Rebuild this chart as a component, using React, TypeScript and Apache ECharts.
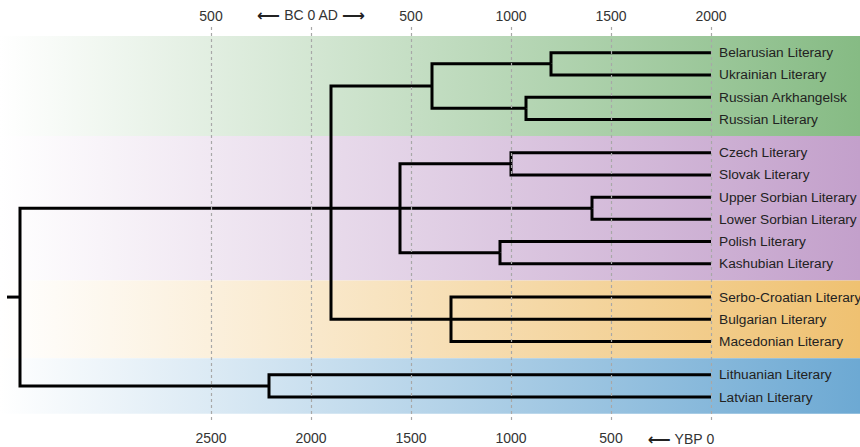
import React, { useEffect, useRef } from "react";
import * as echarts from "echarts";

// ---- leaves, in drawing order, by group ----
const eastSlavic = ["Belarusian Literary", "Ukrainian Literary", "Russian Arkhangelsk", "Russian Literary"];
const westSlavic = ["Czech Literary", "Slovak Literary", "Upper Sorbian Literary", "Lower Sorbian Literary", "Polish Literary", "Kashubian Literary"];
const southSlavic = ["Serbo-Croatian Literary", "Bulgarian Literary", "Macedonian Literary"];
const baltic = ["Lithuanian Literary", "Latvian Literary"];
const groups = [eastSlavic, westSlavic, southSlavic, baltic];
const groupColors = ["#86bb84", "#c3a0cb", "#efc171", "#6da9d3"];

// ---- internal nodes: name, age (years before present), children ----
const nodeNames = ["Root", "Baltic", "Slavic", "East", "BelUkr", "Russian", "West", "CzeSlo", "Sorbian", "PolKas", "South"];
const nodeAgesYBP = [3455, 2210, 1900, 1395, 800, 925, 1555, 1000, 595, 1055, 1300];
const nodeChildren = [
  ["Slavic", "Baltic"],
  ["Lithuanian Literary", "Latvian Literary"],
  ["East", "West", "South"],
  ["BelUkr", "Russian"],
  ["Belarusian Literary", "Ukrainian Literary"],
  ["Russian Arkhangelsk", "Russian Literary"],
  ["CzeSlo", "Sorbian", "PolKas"],
  ["Czech Literary", "Slovak Literary"],
  ["Upper Sorbian Literary", "Lower Sorbian Literary"],
  ["Polish Literary", "Kashubian Literary"],
  ["Serbo-Croatian Literary", "Bulgarian Literary", "Macedonian Literary"],
];
const rootStemYBP = 3520;
const leafAgeYBP = 0;

// ---- axes ----
const topTicksAD = [-500, 0, 500, 1000, 1500, 2000];
const bottomTicksYBP = [2500, 2000, 1500, 1000, 500, 0];
const presentAD = 2000;
const ybpMin = -500;
const ybpMax = 3500;
const rowMin = -1.16;
const rowMax = 16.67;
const groupGap = 0.5;

// ---- derived layout ----
const leafRow: Record<string, number> = {};
const groupRanges: number[][] = [];
{
  let r = 0;
  groups.forEach((g, gi) => {
    const start = r;
    g.forEach((name) => {
      leafRow[name] = r;
      r += 1;
    });
    groupRanges.push([start - 0.75, r - 1 + 0.75, gi]);
    r += groupGap;
  });
}
const nodeIndex: Record<string, number> = {};
nodeNames.forEach((n, i) => (nodeIndex[n] = i));
const ageOf = (n: string) => (n in nodeIndex ? nodeAgesYBP[nodeIndex[n]] : leafAgeYBP);
const yOf = (n: string): number => {
  if (!(n in nodeIndex)) return leafRow[n];
  const ch = nodeChildren[nodeIndex[n]];
  if (ch.length % 2 === 1) return yOf(ch[(ch.length - 1) / 2]);
  return (yOf(ch[0]) + yOf(ch[ch.length - 1])) / 2;
};
const edges: number[][] = [];
nodeNames.forEach((n, i) => {
  const pa = nodeAgesYBP[i];
  const py = yOf(n);
  nodeChildren[i].forEach((c) => edges.push([pa, py, ageOf(c), yOf(c)]));
});
edges.push([rootStemYBP, yOf("Root"), nodeAgesYBP[0], yOf("Root")]);
const allLeaves = groups.flat();
const leafData = allLeaves.map((name, i) => [leafAgeYBP, leafRow[name], i]);

export default function App() {
  const ref = useRef<HTMLDivElement>(null);
  useEffect(() => {
    if (!ref.current) return;
    const chart = echarts.init(ref.current, undefined, { renderer: "svg" });
    const font = "'Liberation Sans', Arial, Helvetica, sans-serif";
    const arrow = { fontSize: 16, fontWeight: "bold", color: "#222", fontFamily: "'DejaVu Sans', sans-serif" };
    chart.setOption({
      animation: false,
      backgroundColor: "#ffffff",
      textStyle: { fontFamily: font },
      grid: { left: 11, right: 49, top: 27, bottom: 19, containLabel: false },
      xAxis: [
        {
          type: "value",
          position: "bottom",
          min: ybpMin,
          max: ybpMax,
          interval: 500,
          inverse: true,
          axisLine: { show: false },
          axisTick: { show: false },
          splitLine: { show: false },
          axisLabel: {
            margin: 8,
            fontSize: 14,
            color: "#333",
            fontFamily: font,
            showMinLabel: true,
            showMaxLabel: true,
            formatter: (v: number) =>
              bottomTicksYBP.includes(v) ? (v === 0 ? "{a|⟵}{s| YBP }0{p|}" : String(v)) : "",
            rich: {
              a: arrow,
              s: { fontSize: 14, color: "#333", fontFamily: font },
              p: { width: 60, fontSize: 14 },
            },
          },
        },
        {
          type: "value",
          position: "top",
          min: presentAD - ybpMax,
          max: presentAD - ybpMin,
          interval: 500,
          axisLine: { show: false },
          axisTick: { show: false },
          splitLine: { show: false },
          axisLabel: {
            margin: 4,
            fontSize: 14,
            color: "#333",
            fontFamily: font,
            formatter: (v: number) =>
              topTicksAD.includes(v) ? (v === 0 ? "{a|⟵}{s| BC 0 AD }{a|⟶}" : String(Math.abs(v))) : "",
            rich: { a: arrow, s: { fontSize: 14, color: "#333", fontFamily: font } },
          },
        },
      ],
      yAxis: { type: "value", min: rowMin, max: rowMax, inverse: true, show: false },
      series: [
        {
          type: "custom",
          z: 1,
          data: groupRanges,
          renderItem: (params: any, api: any) => {
            const y1 = api.coord([0, api.value(0)])[1];
            const y2 = api.coord([0, api.value(1)])[1];
            const c = groupColors[api.value(2)];
            return {
              type: "rect",
              shape: { x: 0, y: y1, width: api.getWidth(), height: y2 - y1 },
              style: {
                fill: new echarts.graphic.LinearGradient(0, 0, 1, 0, [
                  { offset: 0, color: "#ffffff" },
                  { offset: 1, color: c },
                ]),
              },
            };
          },
        },
        {
          type: "custom",
          z: 2,
          data: [],
          renderItem: () => null,
          markLine: {
            silent: true,
            symbol: "none",
            label: { show: false },
            lineStyle: { color: "#a8a8a8", width: 1.2, type: [3, 3] },
            data: bottomTicksYBP.map((v) => ({ xAxis: v })),
          },
        },
        {
          type: "custom",
          z: 3,
          data: edges,
          renderItem: (params: any, api: any) => {
            const pa = api.value(0), py = api.value(1), ca = api.value(2), cy = api.value(3);
            return {
              type: "polyline",
              shape: { points: [api.coord([pa, py]), api.coord([pa, cy]), api.coord([ca, cy])] },
              style: { stroke: "#000", lineWidth: 3, fill: null, lineJoin: "miter", lineCap: "butt" },
            };
          },
        },
        {
          type: "custom",
          z: 4,
          data: leafData,
          renderItem: (params: any, api: any) => {
            const p = api.coord([api.value(0), api.value(1)]);
            return {
              type: "text",
              x: p[0] + 8,
              y: p[1],
              style: {
                text: allLeaves[api.value(2)],
                fontSize: 13.7,
                fontFamily: font,
                fill: "#222",
                align: "left",
                verticalAlign: "middle",
              },
            };
          },
        },
      ],
    });
    return () => chart.dispose();
  }, []);
  return <div ref={ref} style={{ position: "absolute", left: 0, top: 0, width: 860, height: 447 }} />;
}
